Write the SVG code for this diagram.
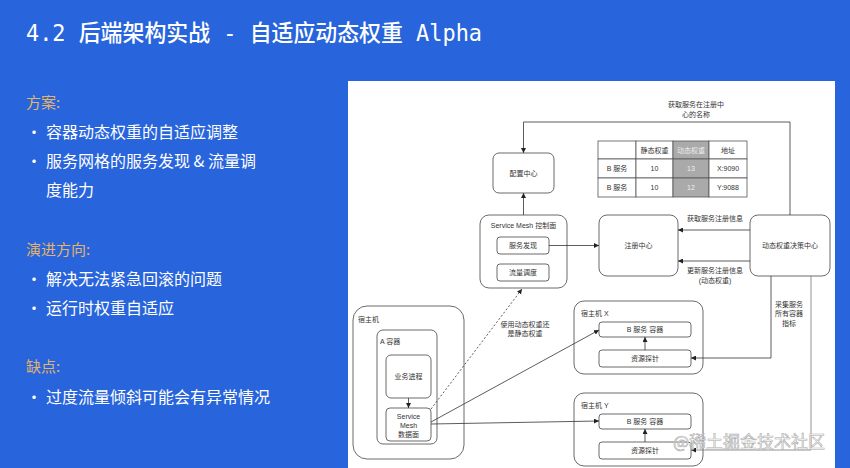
<svg xmlns="http://www.w3.org/2000/svg" width="850" height="468" viewBox="0 0 850 468">
<defs>
<style>
.bg{fill:#2864DB}
.title{font-family:"DejaVu Sans Mono","Noto Sans CJK SC",monospace;font-size:23px;font-weight:500;fill:#fff}
.head{font-family:"Noto Sans CJK SC","Liberation Sans",sans-serif;font-size:15px;fill:#E3B56A}
.li{font-family:"Noto Sans CJK SC","Liberation Sans",sans-serif;font-size:16px;fill:#fff}
.box{fill:#fff;stroke:#444;stroke-width:0.8}
.t{font-family:"Liberation Sans","Noto Sans CJK SC",sans-serif;font-size:7px;fill:#333;dominant-baseline:central}
.c{text-anchor:middle}
.ln{fill:none;stroke:#333;stroke-width:0.8}
.cell{fill:#fff;stroke:#555;stroke-width:0.8}
.gcell{fill:#aaa;stroke:#555;stroke-width:0.8}
.wm{font-family:"Noto Sans CJK SC",sans-serif;font-size:17px;fill:#fff;stroke:#aaa;stroke-width:0.6}
</style>
<marker id="ah" viewBox="0 0 10 10" refX="10" refY="5" markerWidth="5" markerHeight="5" orient="auto-start-reverse" markerUnits="userSpaceOnUse">
<path d="M0,0 L10,5 L0,10 z" fill="#222"/>
</marker>
</defs>
<rect class="bg" x="0" y="0" width="850" height="468"/>
<text class="title" x="26" y="41" textLength="456" lengthAdjust="spacingAndGlyphs">4.2 后端架构实战 - 自适应动态权重 Alpha</text>

<g id="left-text">
<text class="head" x="26" y="108">方案:</text>
<text class="li" x="26" y="138">•</text><text class="li" x="46" y="138">容器动态权重的自适应调整</text>
<text class="li" x="26" y="167">•</text><text class="li" x="46" y="167">服务网格的服务发现 &amp; 流量调</text>
<text class="li" x="46" y="196">度能力</text>
<text class="head" x="26" y="255">演进方向:</text>
<text class="li" x="26" y="285">•</text><text class="li" x="46" y="285">解决无法紧急回滚的问题</text>
<text class="li" x="26" y="314">•</text><text class="li" x="46" y="314">运行时权重自适应</text>
<text class="head" x="26" y="372">缺点:</text>
<text class="li" x="26" y="403">•</text><text class="li" x="46" y="403">过度流量倾斜可能会有异常情况</text>
</g>

<rect x="348" y="81" width="487" height="387" fill="#fff"/>

<g id="config-center">
<rect class="box" x="493" y="153" width="61" height="40" rx="6"/>
<text class="t c" x="523.5" y="173">配置中心</text>
</g>

<g id="weight-table">
<rect class="cell" x="598" y="141" width="38" height="18"/>
<rect class="cell" x="636" y="141" width="37" height="18"/>
<rect class="gcell" x="673" y="141" width="36" height="18"/>
<rect class="cell" x="709" y="141" width="38" height="18"/>
<rect class="cell" x="598" y="159" width="38" height="19"/>
<rect class="cell" x="636" y="159" width="37" height="19"/>
<rect class="gcell" x="673" y="159" width="36" height="19"/>
<rect class="cell" x="709" y="159" width="38" height="19"/>
<rect class="cell" x="598" y="178" width="38" height="19"/>
<rect class="cell" x="636" y="178" width="37" height="19"/>
<rect class="gcell" x="673" y="178" width="36" height="19"/>
<rect class="cell" x="709" y="178" width="38" height="19"/>
<text class="t c" x="654.5" y="150">静态权重</text>
<text class="t c" x="691" y="150" style="fill:#eee">动态权重</text>
<text class="t c" x="728" y="150">地址</text>
<text class="t c" x="617" y="168.5">B 服务</text>
<text class="t c" x="654.5" y="168.5">10</text>
<text class="t c" x="691" y="168.5" style="fill:#eee">13</text>
<text class="t c" x="728" y="168.5">X:9090</text>
<text class="t c" x="617" y="187.5">B 服务</text>
<text class="t c" x="654.5" y="187.5">10</text>
<text class="t c" x="691" y="187.5" style="fill:#eee">12</text>
<text class="t c" x="728" y="187.5">Y:9088</text>
</g>

<g id="mesh-control-plane">
<rect class="box" x="480" y="215" width="87" height="73" rx="9"/>
<text class="t c" x="523.5" y="225">Service Mesh 控制面</text>
<rect class="box" x="497" y="237" width="52" height="17" rx="3"/>
<text class="t c" x="523" y="245.5">服务发现</text>
<rect class="box" x="497" y="264" width="52" height="17" rx="3"/>
<text class="t c" x="523" y="272.5">流量调度</text>
</g>

<g id="registry">
<rect class="box" x="599" y="215" width="79" height="61" rx="8"/>
<text class="t c" x="638.5" y="245.5">注册中心</text>
</g>

<g id="decision-center">
<rect class="box" x="750" y="215" width="80" height="61" rx="8"/>
<text class="t c" x="790" y="245.5">动态权重决策中心</text>
</g>

<g id="host-a">
<rect class="box" x="353" y="306" width="111" height="153" rx="14"/>
<text class="t" x="358" y="319">宿主机</text>
<rect class="box" x="377" y="330" width="60" height="114" rx="6"/>
<text class="t" x="380" y="341">A 容器</text>
<rect class="box" x="386" y="355" width="45" height="43" rx="5"/>
<text class="t c" x="408.5" y="376.5">业务进程</text>
<rect class="box" x="386" y="408" width="45" height="33" rx="4"/>
<text class="t c" x="408.5" y="416">Service</text>
<text class="t c" x="408.5" y="425">Mesh</text>
<text class="t c" x="408.5" y="434">数据面</text>
</g>

<g id="host-x">
<rect class="box" x="574" y="301" width="129" height="73" rx="10"/>
<text class="t" x="581" y="313">宿主机 X</text>
<rect class="box" x="599" y="322" width="92" height="15" rx="3"/>
<text class="t c" x="645" y="329.5">B 服务 容器</text>
<rect class="box" x="599" y="350" width="92" height="17" rx="3"/>
<text class="t c" x="645" y="358.5">资源探针</text>
</g>

<g id="host-y">
<rect class="box" x="574" y="393" width="129" height="73" rx="10"/>
<text class="t" x="581" y="405">宿主机 Y</text>
<rect class="box" x="599" y="414" width="92" height="15" rx="3"/>
<text class="t c" x="645" y="421.5">B 服务 容器</text>
<rect class="box" x="599" y="442" width="92" height="17" rx="3"/>
<text class="t c" x="645" y="450.5">资源探针</text>
</g>

<g id="connectors">
<path class="ln" d="M790,215 L790,122 L523.5,122 L523.5,153" marker-end="url(#ah)"/>
<path class="ln" d="M523.5,215 L523.5,193" marker-end="url(#ah)"/>
<path class="ln" d="M549,245.5 L599,245.5" marker-end="url(#ah)"/>
<path class="ln" d="M750,230 L678,230" marker-end="url(#ah)"/>
<path class="ln" d="M750,261 L678,261" marker-end="url(#ah)"/>
<path class="ln" d="M771,276 L771,358 L691,358" marker-end="url(#ah)"/>
<path class="ln" d="M811,276 L811,450 L691,450" marker-end="url(#ah)" style="stroke:#777"/>
<path class="ln" d="M645,350 L645,337" marker-end="url(#ah)"/>
<path class="ln" d="M645,442 L645,429" marker-end="url(#ah)"/>
<path class="ln" d="M408.5,398 L408.5,408" marker-end="url(#ah)"/>
<path class="ln" d="M431,422 L599,330" marker-end="url(#ah)"/>
<path class="ln" d="M431,424 L599,421" marker-end="url(#ah)"/>
<path class="ln" d="M431,409 L522,289" marker-end="url(#ah)" stroke-dasharray="2,2"/>
<text class="t c" x="696" y="104">获取服务在注册中</text>
<text class="t c" x="696" y="114">心的名称</text>
<text class="t c" x="715" y="218">获取服务注册信息</text>
<text class="t c" x="715" y="270">更新服务注册信息</text>
<text class="t c" x="715" y="280">(动态权重)</text>
<text class="t c" x="789" y="304">采集服务</text>
<text class="t c" x="789" y="313.5">所有容器</text>
<text class="t c" x="789" y="323">指标</text>
<text class="t c" x="525" y="324">使用动态权重还</text>
<text class="t c" x="525" y="333.5">是静态权重</text>
</g>

<text class="wm" x="673" y="448">@稀土掘金技术社区</text>
</svg>
